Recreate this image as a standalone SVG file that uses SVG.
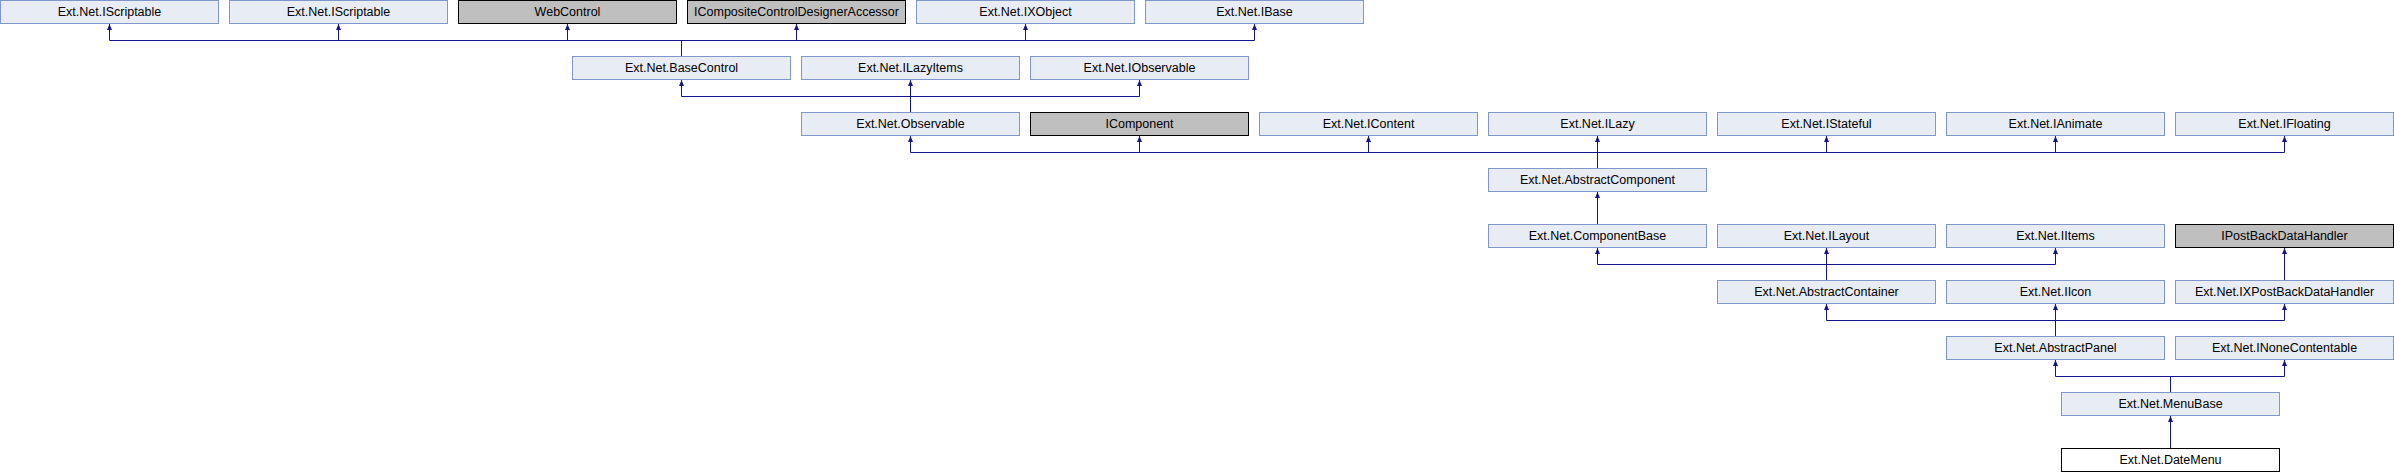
<svg xmlns="http://www.w3.org/2000/svg" width="2394" height="472" viewBox="0 0 2394 472">
<style>
  .n rect { fill: #E8ECF5; stroke: #7F96CB; stroke-width: 1; }
  .g rect { fill: #BFBFBF; stroke: #000000; stroke-width: 1; }
  .w rect { fill: #FFFFFF; stroke: #000000; stroke-width: 1; }
  text { font-family: "Liberation Sans", Arial, sans-serif; font-size: 12.5px; fill: #000000; text-anchor: middle; }
  .e path { fill: none; stroke: #14148C; stroke-width: 1; marker-end: url(#arr); }
</style>
<defs>
  <marker id="arr" markerUnits="userSpaceOnUse" markerWidth="7" markerHeight="6" refX="6" refY="2.5" orient="auto" viewBox="0 0 7 5">
    <path d="M0,0 L6,2.5 L0,5 Z" fill="#14148C" stroke="none"/>
  </marker>
</defs>
<rect width="2394" height="472" fill="#FFFFFF"/>
<g class="e" id="connectors">
  <path d="M681.5,56 V40.5 H109.5 V24"/>
  <path d="M681.5,56 V40.5 H338.5 V24"/>
  <path d="M681.5,56 V40.5 H567.5 V24"/>
  <path d="M681.5,56 V40.5 H796.5 V24"/>
  <path d="M681.5,56 V40.5 H1025.5 V24"/>
  <path d="M681.5,56 V40.5 H1254.5 V24"/>
  <path d="M910.5,112 V96.5 H681.5 V80"/>
  <path d="M910.5,112 V80"/>
  <path d="M910.5,112 V96.5 H1139.5 V80"/>
  <path d="M1597.5,168 V152.5 H910.5 V136"/>
  <path d="M1597.5,168 V152.5 H1139.5 V136"/>
  <path d="M1597.5,168 V152.5 H1368.5 V136"/>
  <path d="M1597.5,168 V136"/>
  <path d="M1597.5,168 V152.5 H1826.5 V136"/>
  <path d="M1597.5,168 V152.5 H2055.5 V136"/>
  <path d="M1597.5,168 V152.5 H2284.5 V136"/>
  <path d="M1597.5,224 V192"/>
  <path d="M1826.5,280 V264.5 H1597.5 V248"/>
  <path d="M1826.5,280 V248"/>
  <path d="M1826.5,280 V264.5 H2055.5 V248"/>
  <path d="M2284.5,280 V248"/>
  <path d="M2055.5,336 V320.5 H1826.5 V304"/>
  <path d="M2055.5,336 V304"/>
  <path d="M2055.5,336 V320.5 H2284.5 V304"/>
  <path d="M2170.5,392 V376.5 H2055.5 V360"/>
  <path d="M2170.5,392 V376.5 H2284.5 V360"/>
  <path d="M2170.5,448 V416"/>
</g>
<g id="IScriptable1" class="n"><rect x="0.5" y="0.5" width="218" height="23"/><text x="109.5" y="16">Ext.Net.IScriptable</text></g>
<g id="IScriptable2" class="n"><rect x="229.5" y="0.5" width="218" height="23"/><text x="338.5" y="16">Ext.Net.IScriptable</text></g>
<g id="WebControl" class="g"><rect x="458.5" y="0.5" width="218" height="23"/><text x="567.5" y="16">WebControl</text></g>
<g id="ICompositeControlDesignerAccessor" class="g"><rect x="687.5" y="0.5" width="218" height="23"/><text x="796.5" y="16">ICompositeControlDesignerAccessor</text></g>
<g id="IXObject" class="n"><rect x="916.5" y="0.5" width="218" height="23"/><text x="1025.5" y="16">Ext.Net.IXObject</text></g>
<g id="IBase" class="n"><rect x="1145.5" y="0.5" width="218" height="23"/><text x="1254.5" y="16">Ext.Net.IBase</text></g>

<g id="BaseControl" class="n"><rect x="572.5" y="56.5" width="218" height="23"/><text x="681.5" y="72">Ext.Net.BaseControl</text></g>
<g id="ILazyItems" class="n"><rect x="801.5" y="56.5" width="218" height="23"/><text x="910.5" y="72">Ext.Net.ILazyItems</text></g>
<g id="IObservable" class="n"><rect x="1030.5" y="56.5" width="218" height="23"/><text x="1139.5" y="72">Ext.Net.IObservable</text></g>

<g id="Observable" class="n"><rect x="801.5" y="112.5" width="218" height="23"/><text x="910.5" y="128">Ext.Net.Observable</text></g>
<g id="IComponent" class="g"><rect x="1030.5" y="112.5" width="218" height="23"/><text x="1139.5" y="128">IComponent</text></g>
<g id="IContent" class="n"><rect x="1259.5" y="112.5" width="218" height="23"/><text x="1368.5" y="128">Ext.Net.IContent</text></g>
<g id="ILazy" class="n"><rect x="1488.5" y="112.5" width="218" height="23"/><text x="1597.5" y="128">Ext.Net.ILazy</text></g>
<g id="IStateful" class="n"><rect x="1717.5" y="112.5" width="218" height="23"/><text x="1826.5" y="128">Ext.Net.IStateful</text></g>
<g id="IAnimate" class="n"><rect x="1946.5" y="112.5" width="218" height="23"/><text x="2055.5" y="128">Ext.Net.IAnimate</text></g>
<g id="IFloating" class="n"><rect x="2175.5" y="112.5" width="218" height="23"/><text x="2284.5" y="128">Ext.Net.IFloating</text></g>

<g id="AbstractComponent" class="n"><rect x="1488.5" y="168.5" width="218" height="23"/><text x="1597.5" y="184">Ext.Net.AbstractComponent</text></g>

<g id="ComponentBase" class="n"><rect x="1488.5" y="224.5" width="218" height="23"/><text x="1597.5" y="240">Ext.Net.ComponentBase</text></g>
<g id="ILayout" class="n"><rect x="1717.5" y="224.5" width="218" height="23"/><text x="1826.5" y="240">Ext.Net.ILayout</text></g>
<g id="IItems" class="n"><rect x="1946.5" y="224.5" width="218" height="23"/><text x="2055.5" y="240">Ext.Net.IItems</text></g>
<g id="IPostBackDataHandler" class="g"><rect x="2175.5" y="224.5" width="218" height="23"/><text x="2284.5" y="240">IPostBackDataHandler</text></g>

<g id="AbstractContainer" class="n"><rect x="1717.5" y="280.5" width="218" height="23"/><text x="1826.5" y="296">Ext.Net.AbstractContainer</text></g>
<g id="IIcon" class="n"><rect x="1946.5" y="280.5" width="218" height="23"/><text x="2055.5" y="296">Ext.Net.IIcon</text></g>
<g id="IXPostBackDataHandler" class="n"><rect x="2175.5" y="280.5" width="218" height="23"/><text x="2284.5" y="296">Ext.Net.IXPostBackDataHandler</text></g>

<g id="AbstractPanel" class="n"><rect x="1946.5" y="336.5" width="218" height="23"/><text x="2055.5" y="352">Ext.Net.AbstractPanel</text></g>
<g id="INoneContentable" class="n"><rect x="2175.5" y="336.5" width="218" height="23"/><text x="2284.5" y="352">Ext.Net.INoneContentable</text></g>

<g id="MenuBase" class="n"><rect x="2061.5" y="392.5" width="218" height="23"/><text x="2170.5" y="408">Ext.Net.MenuBase</text></g>

<g id="DateMenu" class="w"><rect x="2061.5" y="448.5" width="218" height="23"/><text x="2170.5" y="464">Ext.Net.DateMenu</text></g>
</svg>
